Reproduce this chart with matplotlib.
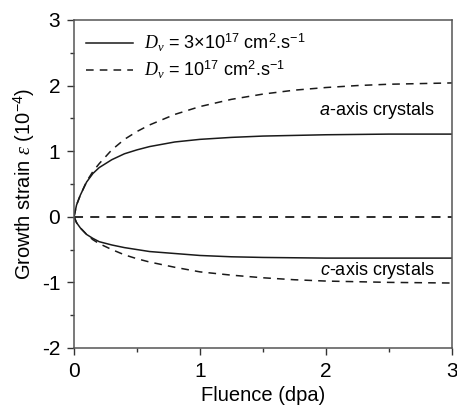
import matplotlib.pyplot as plt
from matplotlib.ticker import MultipleLocator

plt.rcParams['font.family'] = ['Liberation Sans', 'DejaVu Sans']
plt.rcParams['axes.unicode_minus'] = False
plt.rcParams['mathtext.fontset'] = 'custom'
plt.rcParams['mathtext.rm'] = 'Liberation Sans'
plt.rcParams['mathtext.it'] = 'Liberation Serif:italic'
plt.rcParams['mathtext.sf'] = 'Liberation Sans:italic'

# fluence (dpa)
fluence = [0, 0.02, 0.05, 0.1, 0.15, 0.2, 0.3, 0.4, 0.5, 0.6, 0.8, 1.0, 1.25, 1.5, 1.75, 2.0, 2.25, 2.5, 3.0]

# growth strain (1e-4), Dv = 3e17
a_solid = [0, 0.18, 0.33, 0.53, 0.66, 0.75, 0.87, 0.96, 1.02, 1.07, 1.14, 1.18, 1.21, 1.23, 1.24, 1.25, 1.255, 1.26, 1.26]
c_solid = [0, -0.09, -0.17, -0.27, -0.33, -0.38, -0.43, -0.47, -0.50, -0.53, -0.56, -0.59, -0.61, -0.62, -0.625, -0.63, -0.63, -0.63, -0.63]

# growth strain (1e-4), Dv = 1e17
a_dash = [0, 0.18, 0.33, 0.54, 0.69, 0.81, 1.02, 1.18, 1.30, 1.40, 1.56, 1.68, 1.79, 1.87, 1.93, 1.97, 2.00, 2.02, 2.04]
c_dash = [0, -0.09, -0.17, -0.27, -0.35, -0.41, -0.50, -0.58, -0.64, -0.69, -0.77, -0.84, -0.89, -0.93, -0.96, -0.98, -0.99, -1.00, -1.01]

zero_x = [0, 3]
zero_y = [0, 0]

fig = plt.figure(figsize=(4.57, 4.07), dpi=100)
ax = fig.add_axes([0.162, 0.145, 0.827, 0.806])

ax.plot(fluence, a_solid, color='#1a1a1a', lw=1.1, ls='-',
        label=r'$D_v$ = 3$\times$10$^{17}$ cm$^{2}$.s$^{-1}$')
ax.plot(fluence, a_dash, color='#1a1a1a', lw=1.1, ls=(0, (5, 4)),
        label=r'$D_v$ = 10$^{17}$ cm$^{2}$.s$^{-1}$')
ax.plot(fluence, c_solid, color='#1a1a1a', lw=1.1, ls='-')
ax.plot(fluence, c_dash, color='#1a1a1a', lw=1.1, ls=(0, (5, 4)))
ax.plot(zero_x, zero_y, color='#1a1a1a', lw=1.3, ls=(0, (5, 4)))

ax.text(2.86, 1.62, r'$\mathsf{a}$-axis crystals', ha='right', va='center', fontsize=13)
ax.text(2.86, -0.82, r'$\mathsf{c}$-axis crystals', ha='right', va='center', fontsize=13)

ax.set_xlim(0, 3)
ax.set_ylim(-2, 3)
ax.xaxis.set_major_locator(MultipleLocator(1))
ax.xaxis.set_minor_locator(MultipleLocator(0.5))
ax.yaxis.set_major_locator(MultipleLocator(1))
ax.yaxis.set_minor_locator(MultipleLocator(0.5))
ax.tick_params(which='major', direction='out', length=5, width=1, labelsize=15, colors='#333333', pad=5)
ax.tick_params(which='minor', direction='out', length=3, width=1, colors='#333333')
ax.tick_params(labelcolor='black')
for s in ax.spines.values():
    s.set_color('#555555')
    s.set_linewidth(1.1)

ax.set_xlabel('Fluence (dpa)', fontsize=14.5, labelpad=4)
ax.set_ylabel(r'Growth strain $\varepsilon$ (10$^{-4}$)', fontsize=14.5, labelpad=3)

ax.legend(loc='upper left', frameon=False, fontsize=13, handlelength=2.6,
          handletextpad=0.6, borderaxespad=0.25, labelspacing=0.3)

plt.savefig('out.png', dpi=100)
